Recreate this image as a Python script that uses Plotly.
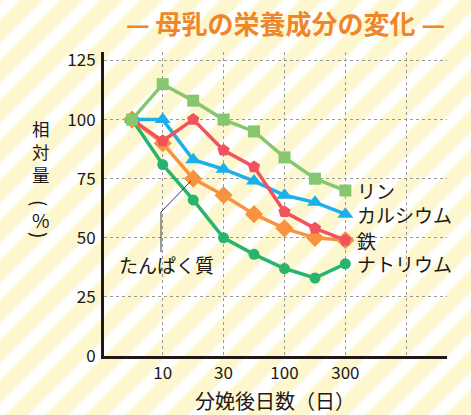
import math
import plotly.graph_objects as go

# Days after delivery (quarter-decade steps on the log axis)
days = [5.6, 10, 17.8, 31.6, 56.2, 100, 178, 316]

# Relative amount (%) of each component, first sample = 100
sodium = [100, 81, 66, 50, 43, 37, 33, 39]
protein = [100, 90, 75, 68, 60, 54, 50, 49]
calcium = [100, 100, 83, 79, 74, 68, 65, 60]
iron = [100, 91, 100, 87, 80, 61, 54, 49]
phosphorus = [100, 115, 108, 100, 95, 84, 75, 70]

x_tick_vals = [10, 31.6, 100, 316, 1000]
x_tick_text = ["10", "30", "100", "300", ""]
y_tick_vals = [0, 25, 50, 75, 100, 125]

FONT = "Noto Sans CJK JP"
INK = "#231815"

W, H = 471, 415
L, R, T, B = 104, 24, 52, 59
PW, PH = W - L - R, H - T - B


def to_paper(px, py):
    """Convert figure pixel position to paper coordinates."""
    return (px - L) / PW, (H - B - py) / PH


# series: (name, values, colour, marker symbol, marker size, label shown at line end)
series = [
    ("ナトリウム", sodium, "#27b46e", "circle", 11, True),
    ("たんぱく質", protein, "#f7933f", "diamond", 14, False),
    ("カルシウム", calcium, "#1cb0ea", "triangle-up", 14, True),
    ("鉄", iron, "#f0535e", "pentagon", 13, True),
    ("リン", phosphorus, "#86c76e", "square", 12, True),
]

fig = go.Figure()
for name, vals, color, symbol, size, _ in series:
    fig.add_trace(go.Scatter(
        x=days, y=vals, name=name, mode="lines+markers",
        line=dict(color=color, width=3.5),
        marker=dict(symbol=symbol, size=size, color=color, line=dict(width=0)),
        showlegend=False,
    ))

# diagonal cream stripes over the whole background
period, band = 40, 23
parts = []
for c in range(-60, W + H + 60, period):
    pts = [(c + 5, -5), (c + band + 5, -5), (c + band - H - 5, H + 5), (c - H - 5, H + 5)]
    pp = [to_paper(x, y) for x, y in pts]
    parts.append("M" + " L".join(f"{x:.4f},{y:.4f}" for x, y in pp) + " Z")
shapes = [dict(type="path", xref="paper", yref="paper", path=" ".join(parts),
               fillcolor="#fdf7d0", line=dict(width=0), layer="below")]

# leader line for the protein label
lead = [to_paper(161, 252), to_paper(161, 212), to_paper(191, 181)]
shapes.append(dict(type="path", xref="paper", yref="paper",
                   path="M" + " L".join(f"{x:.4f},{y:.4f}" for x, y in lead),
                   line=dict(color="#3a3a3a", width=1), layer="above"))

annotations = []


def text_at(px, py, text, size, color=INK, angle=0):
    x, y = to_paper(px, py)
    annotations.append(dict(x=x, y=y, xref="paper", yref="paper", text=text,
                            showarrow=False, xanchor="center", yanchor="middle",
                            textangle=angle,
                            font=dict(family=FONT, size=size, color=color)))


# labels at the line ends
for name, vals, color, symbol, size, at_end in series:
    if at_end:
        annotations.append(dict(
            x=math.log10(days[-1]), y=vals[-1], xref="x", yref="y",
            text=name, showarrow=False, xanchor="left", yanchor="middle",
            xshift=10, font=dict(family=FONT, size=19, color=INK)))

text_at(166, 264, "たんぱく質", 19)
text_at(285, 22, "<b>— 母乳の栄養成分の変化 —</b>", 26, "#f0862a")
text_at(275, 400, "分娩後日数（日）", 20)

# y axis title, stacked vertically (parentheses turned to run downwards)
text_at(41, 151, "相<br>対<br>量", 17.5)
text_at(41, 203, "(", 19, angle=90)
text_at(41, 219, "%", 19)
text_at(41, 235, ")", 19, angle=90)

x_lo = 1 - (162.7 - L) / 121.8
x_hi = 1 + (W - R - 162.7) / 121.8
y_hi = 125 + (60.5 - T) / ((H - B - 60.5) / 125)

fig.update_layout(
    width=W, height=H,
    margin=dict(l=L, r=R, t=T, b=B, pad=0),
    paper_bgcolor="white", plot_bgcolor="rgba(0,0,0,0)",
    shapes=shapes, annotations=annotations,
    xaxis=dict(type="log", range=[x_lo, x_hi], tickvals=x_tick_vals, ticktext=x_tick_text,
               showgrid=True, gridcolor="#9a9a9a", griddash="dot", gridwidth=1,
               showline=True, linecolor=INK, linewidth=3, zeroline=False, ticks="",
               tickfont=dict(family=FONT, size=17, color=INK)),
    yaxis=dict(range=[0, y_hi], tickvals=y_tick_vals,
               showgrid=True, gridcolor="#9a9a9a", griddash="dot", gridwidth=1,
               showline=True, linecolor=INK, linewidth=3, zeroline=False, ticks="",
               ticklabelstandoff=2,
               tickfont=dict(family=FONT, size=17, color=INK)),
)

fig.write_html("out.html")
